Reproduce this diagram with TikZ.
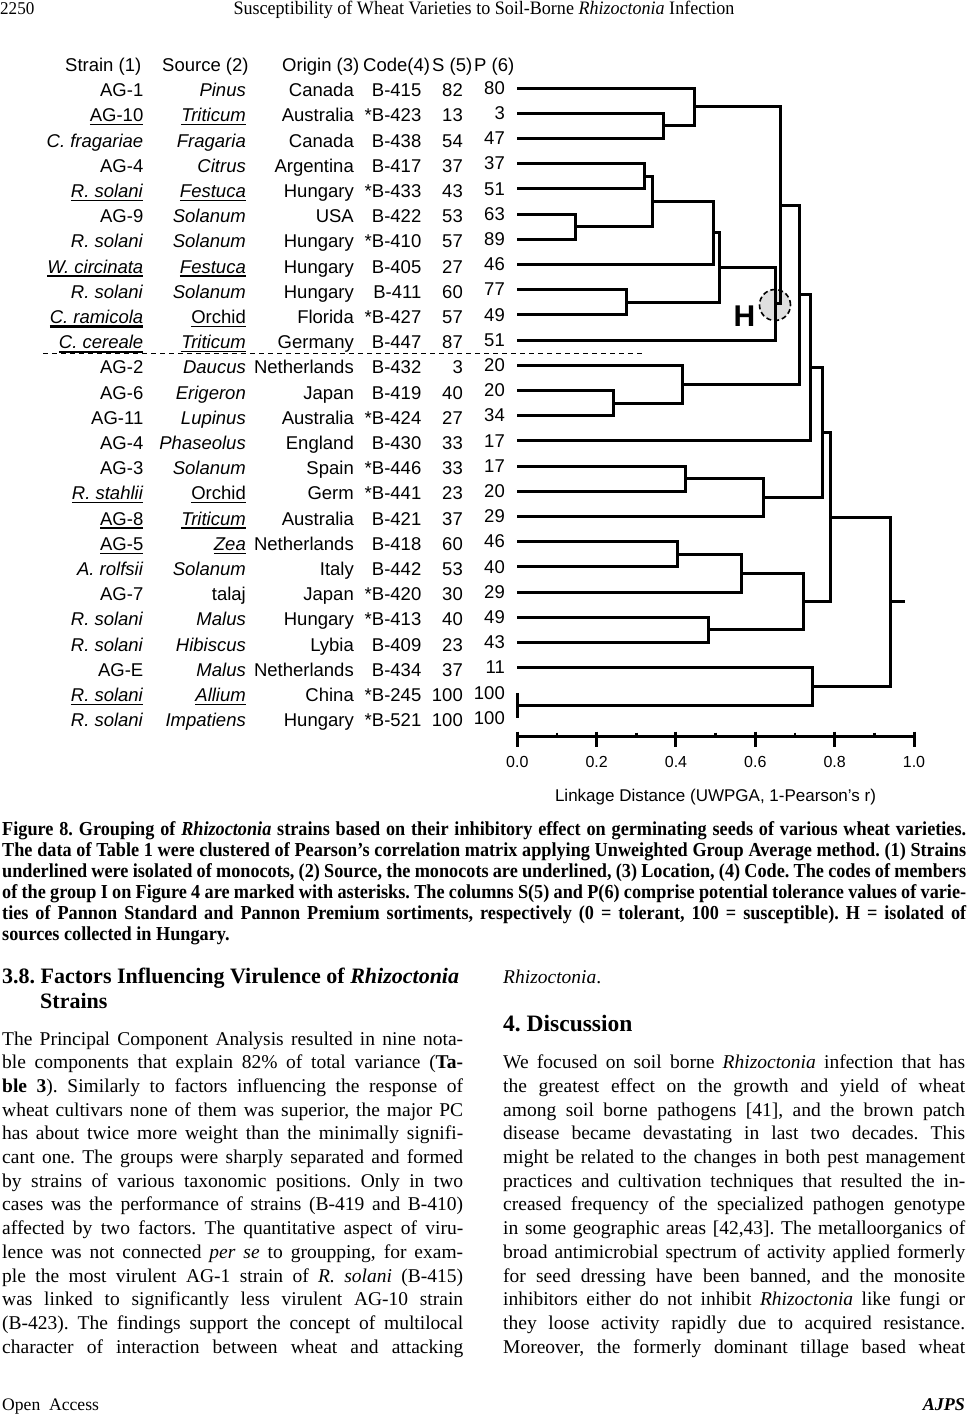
\documentclass[tikz,border=0pt]{standalone}
\usepackage{fontspec}
\setmainfont{Liberation Serif}
\newfontfamily\arialf{Liberation Sans}
\newfontfamily\capf[FakeStretch=0.92]{Liberation Serif}
\newfontfamily\headf[FakeStretch=0.95]{Liberation Serif}
\frenchspacing
\newcommand{\uln}[1]{\setbox0=\hbox{#1}\rlap{\rule[-3.6pt]{\wd0}{1.3pt}}\box0}
\newcommand{\ulnb}[1]{\setbox0=\hbox{#1}\rlap{\rule[-4.2pt]{\wd0}{2.2pt}}\box0}
\newcommand{\bline}[5]{\node[body, name=#1] at (#2,#3) {\makebox[#4pt][s]{#5}};}
\newcommand{\capline}[3]{\node[capl, name=#1] at (2,#2) {\makebox[964pt][s]{#3}};}
\tikzset{
  tab/.style={inner sep=0pt, anchor=base east, font=\arialf\fontsize{18.5}{22}\selectfont},
  tabh/.style={inner sep=0pt, anchor=base west, font=\arialf\fontsize{18.5}{22}\selectfont},
  tree/.style={line width=3pt},
  body/.style={inner sep=0pt, anchor=base west, font=\fontsize{19.5}{23.7}\selectfont},
  capl/.style={inner sep=0pt, anchor=base west, font=\capf\bfseries\fontsize{19.8}{21}\selectfont},
  head/.style={inner sep=0pt, anchor=base west, font=\bfseries\fontsize{22}{26}\selectfont},
  axlab/.style={inner sep=0pt, anchor=base, font=\arialf\fontsize{16}{18}\selectfont},
}
\begin{document}
\begin{tikzpicture}[x=1pt,y=-1pt]
\fill[white] (0,0) rectangle (968,1414);
\useasboundingbox (0,0) rectangle (968,1414);

% running head
\node[inner sep=0pt, anchor=base west, font=\headf\fontsize{18}{20}\selectfont] (pgno) at (0,14.5) {2250};
\node[inner sep=0pt, anchor=base, font=\headf\fontsize{19}{20}\selectfont] (rtitle) at (484,14.5) {Susceptibility of Wheat Varieties to Soil-Borne \textit{Rhizoctonia} Infection};

% table header
\node[tabh] (h1) at (65,71.6) {Strain (1)};
\node[tabh] (h2) at (162,71.6) {Source (2)};
\node[tabh] (h3) at (282,71.6) {Origin (3)};
\node[tabh] (h4) at (363,71.6) {Code(4)};
\node[tabh] (h5) at (432,71.6) {S (5)};
\node[tabh] (h6) at (474,71.6) {P (6)};

% table rows
\foreach \i/\strn/\srce/\orig/\cod/\sv in {
1/AG-1/\textit{Pinus}/Canada/B-415/82,
2/\uln{AG-10}/\uln{\textit{Triticum}}/Australia/*B-423/13,
3/\textit{C. fragariae}/\textit{Fragaria}/Canada/B-438/54,
4/AG-4/\textit{Citrus}/Argentina/B-417/37,
5/\uln{\textit{R. solani}}/\uln{\textit{Festuca}}/Hungary/*B-433/43,
6/AG-9/\textit{Solanum}/USA/B-422/53,
7/\textit{R. solani}/\textit{Solanum}/Hungary/*B-410/57,
8/\uln{\textit{W. circinata}}/\uln{\textit{Festuca}}/Hungary/B-405/27,
9/\textit{R. solani}/\textit{Solanum}/Hungary/B-411/60,
10/\ulnb{\textit{C. ramicola}}/\uln{Orchid}/Florida/*B-427/57,
11/\ulnb{\textit{C. cereale}}/\uln{\textit{Triticum}}/Germany/B-447/87,
12/AG-2/\textit{Daucus}/Netherlands/B-432/3,
13/AG-6/\textit{Erigeron}/Japan/B-419/40,
14/AG-11\hspace{3pt}/\textit{Lupinus}/Australia/*B-424/27,
15/AG-4/\textit{Phaseolus}/England/B-430/33,
16/AG-3/\textit{Solanum}/Spain/*B-446/33,
17/\uln{\textit{R. stahlii}}/\uln{Orchid}/Germ/*B-441/23,
18/\uln{AG-8}/\uln{\textit{Triticum}}/Australia/B-421/37,
19/\uln{AG-5}/\uln{\textit{Zea}}/Netherlands/B-418/60,
20/\textit{A. rolfsii}/\textit{Solanum}/Italy/B-442/53,
21/AG-7/talaj/Japan/*B-420/30,
22/\textit{R. solani}/\textit{Malus}/Hungary/*B-413/40,
23/\textit{R. solani}/\textit{Hibiscus}/Lybia/B-409/23,
24/AG-E/\textit{Malus}/Netherlands/B-434/37,
25/\uln{\textit{R. solani}}/\uln{\textit{Allium}}/China/*B-245/100,
26/\textit{R. solani}/\textit{Impatiens}/Hungary/*B-521/100}{
  \pgfmathsetmacro\yb{96.6+(\i-1)*25.2}
  \node[tab] (st\i) at (143.5,\yb) {\strn};
  \node[tab] (so\i) at (246,\yb) {\srce};
  \node[tab] (or\i) at (354,\yb) {\orig};
  \node[tab] (co\i) at (421.5,\yb) {\cod};
  \node[tab] (sv\i) at (463,\yb) {\sv};
}

% P column
\foreach \i/\p in {1/80,2/3,3/47,4/37,5/51,6/63,7/89,8/46,9/77,10/49,11/51,12/20,13/20,14/34,15/17,16/17,17/20,18/29,19/46,20/40,21/29,22/49,23/43,24/11,25/100,26/100}{
  \pgfmathsetmacro\yb{94.3+(\i-1)*25.2}
  \node[tab] (pv\i) at (505,\yb) {\p};
}

% separator
\coordinate (dashL) at (43,353);
\coordinate (dashR) at (643,353);
\draw[line width=1pt, dash pattern=on 5pt off 4pt] (dashL) -- (dashR);

% H marker
\node[circle, draw, fill=gray!25, line width=1.6pt, dash pattern=on 5pt off 3pt, minimum size=31pt, inner sep=0pt] (hcirc) at (775,305) {};
\node[inner sep=0pt, anchor=base west, font=\arialf\bfseries\fontsize{30}{30}\selectfont] (hlab) at (733.3,326.7) {H};

% leaves
\foreach \i in {1,...,26}{
  \pgfmathsetmacro\ly{88+(\i-1)*25.2}
  \coordinate (l\i) at (517.3,\ly);
}
% internal nodes
\coordinate (B) at (663.3,125.8);
\coordinate (A) at (694.3,106.9);
\coordinate (J) at (644.3,176.2);
\coordinate (K) at (575.3,226.6);
\coordinate (I) at (652.7,201.4);
\coordinate (G) at (713.3,232.9);
\coordinate (Hn) at (626.7,302.2);
\coordinate (F) at (719.5,267.55);
\coordinate (D) at (775.7,303.8);
\coordinate (C) at (780,205.35);
\coordinate (N) at (613.3,403);
\coordinate (L) at (682.3,384.1);
\coordinate (E) at (799.3,294.7);
\coordinate (M) at (810,367.75);
\coordinate (R) at (685.7,478.6);
\coordinate (P) at (763.3,497.5);
\coordinate (O) at (822.3,432.6);
\coordinate (W) at (677.3,554.2);
\coordinate (U) at (741,573.1);
\coordinate (V) at (708.3,629.8);
\coordinate (S) at (803.3,601.45);
\coordinate (Q) at (830,517);
\coordinate (Z) at (517.3,705.4);
\coordinate (X) at (812.7,686.5);
\coordinate (T) at (890,601.75);
\coordinate (Tend) at (905,601.75);

\foreach \c/\p in {l2/B,l3/B,l1/A,B/A,l4/J,l5/J,l6/K,l7/K,J/I,K/I,I/G,l8/G,l9/Hn,l10/Hn,G/F,Hn/F,F/D,l11/D,A/C,D/C,l13/N,l14/N,l12/L,N/L,C/E,L/E,E/M,l15/M,l16/R,l17/R,R/P,l18/P,M/O,P/O,l19/W,l20/W,W/U,l21/U,l22/V,l23/V,U/S,V/S,O/Q,S/Q,l24/X,Z/X,Q/T,X/T}{
  \draw[tree] (\c) -| (\p);
}
\draw[tree] (T) -- (Tend);
\draw[tree] (l25) -- (l26);

% axis
\coordinate (ax0) at (517.3,736.7);
\coordinate (ax1) at (914,736.7);
\draw[tree] (ax0) -- (ax1);
\foreach \k in {0,2,...,10}{
  \draw[tree] ({517.3+\k*39.67},731.5) -- ({517.3+\k*39.67},746.5);
}
\foreach \k in {1,3,...,9}{
  \draw[line width=2.5pt] ({517.3+\k*39.67},732.5) -- ({517.3+\k*39.67},737);
}
\foreach \k/\lab in {0/0.0,1/0.2,2/0.4,3/0.6,4/0.8,5/1.0}{
  \node[axlab] (tl\k) at ({517.3+\k*79.34},767.5) {\lab};
}
\node[inner sep=0pt, anchor=base, font=\arialf\fontsize{17}{20}\selectfont] (axt) at (715.5,801) {Linkage Distance (UWPGA, 1-Pearson’s r)};

% caption
\capline{c1}{835.5}{Figure 8. Grouping of \textit{Rhizoctonia} strains based on their inhibitory effect on germinating seeds of various wheat varieties.}
\capline{c2}{856.5}{The data of Table 1 were clustered of Pearson’s correlation matrix applying Unweighted Group Average method. (1) Strains}
\capline{c3}{877.5}{underlined were isolated of monocots, (2) Source, the monocots are underlined, (3) Location, (4) Code. The codes of members}
\capline{c4}{898.5}{of the group I on Figure 4 are marked with asterisks. The columns S(5) and P(6) comprise potential tolerance values of varie-}
\capline{c5}{919.5}{ties of Pannon Standard and Pannon Premium sortiments, respectively (0 = tolerant, 100 = susceptible). H = isolated of}
\node[capl] (c6) at (2,940.5) {sources collected in Hungary.};

% left column
\node[head] (sec1) at (2,983.3) {3.8. Factors Influencing Virulence of \textit{Rhizoctonia}};
\node[head] (sec2) at (40,1008.3) {Strains};
\bline{a1}{2}{1045}{461}{The Principal Component Analysis resulted in nine nota-}
\bline{a2}{2}{1068.7}{461}{ble components that explain 82\% of total variance (\textbf{Ta-}}
\bline{a3}{2}{1092.4}{461}{\textbf{ble 3}). Similarly to factors influencing the response of}
\bline{a4}{2}{1116.1}{461}{wheat cultivars none of them was superior, the major PC}
\bline{a5}{2}{1139.8}{461}{has about twice more weight than the minimally signifi-}
\bline{a6}{2}{1163.5}{461}{cant one. The groups were sharply separated and formed}
\bline{a7}{2}{1187.2}{461}{by strains of various taxonomic positions. Only in two}
\bline{a8}{2}{1210.9}{461}{cases was the performance of strains (B-419 and B-410)}
\bline{a9}{2}{1234.6}{461}{affected by two factors. The quantitative aspect of viru-}
\bline{a10}{2}{1258.3}{461}{lence was not connected \textit{per se} to groupping, for exam-}
\bline{a11}{2}{1282}{461}{ple the most virulent AG-1 strain of \textit{R. solani} (B-415)}
\bline{a12}{2}{1305.7}{461}{was linked to significantly less virulent AG-10 strain}
\bline{a13}{2}{1329.4}{461}{(B-423). The findings support the concept of multilocal}
\bline{a14}{2}{1353.1}{461}{character of interaction between wheat and attacking}

% right column
\node[body] (b0) at (503,983.3) {\textit{Rhizoctonia}.};
\node[head, font=\bfseries\fontsize{23.5}{26}\selectfont] (sec3) at (503,1031.7) {4. Discussion};
\bline{b1}{503}{1068.7}{462}{We focused on soil borne \textit{Rhizoctonia} infection that has}
\bline{b2}{503}{1092.4}{462}{the greatest effect on the growth and yield of wheat}
\bline{b3}{503}{1116.1}{462}{among soil borne pathogens [41], and the brown patch}
\bline{b4}{503}{1139.8}{462}{disease became devastating in last two decades. This}
\bline{b5}{503}{1163.5}{462}{might be related to the changes in both pest management}
\bline{b6}{503}{1187.2}{462}{practices and cultivation techniques that resulted the in-}
\bline{b7}{503}{1210.9}{462}{creased frequency of the specialized pathogen genotype}
\bline{b8}{503}{1234.6}{462}{in some geographic areas [42,43]. The metalloorganics of}
\bline{b9}{503}{1258.3}{462}{broad antimicrobial spectrum of activity applied formerly}
\bline{b10}{503}{1282}{462}{for seed dressing have been banned, and the monosite}
\bline{b11}{503}{1305.7}{462}{inhibitors either do not inhibit \textit{Rhizoctonia} like fungi or}
\bline{b12}{503}{1329.4}{462}{they loose activity rapidly due to acquired resistance.}
\bline{b13}{503}{1353.1}{462}{Moreover, the formerly dominant tillage based wheat}

% footer
\node[inner sep=0pt, anchor=base west, font=\fontsize{17.6}{20}\selectfont] (foot1) at (2,1410) {Open\ \ Access};
\node[inner sep=0pt, anchor=base east, font=\bfseries\itshape\fontsize{18}{20}\selectfont] (foot2) at (965,1410) {AJPS};
\end{tikzpicture}
\end{document}
